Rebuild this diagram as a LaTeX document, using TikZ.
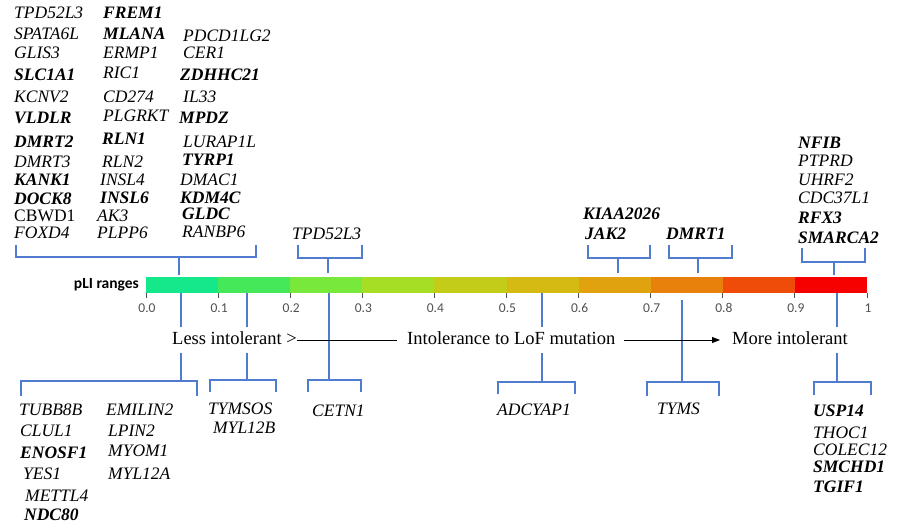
\documentclass[tikz,border=0pt]{standalone}
\usepackage{fontspec}
\setmainfont{Liberation Serif}
\newfontfamily\calib{Carlito}
\usetikzlibrary{arrows.meta}
\definecolor{brblue}{RGB}{79,124,206}
\definecolor{tickgray}{RGB}{80,80,80}
\definecolor{sA}{RGB}{20,232,138}
\definecolor{sB}{RGB}{68,232,88}
\definecolor{sC}{RGB}{120,232,58}
\definecolor{sD}{RGB}{166,222,38}
\definecolor{sE}{RGB}{196,204,26}
\definecolor{sF}{RGB}{212,186,18}
\definecolor{sG}{RGB}{224,162,14}
\definecolor{sH}{RGB}{232,128,12}
\definecolor{sI}{RGB}{238,76,8}
\definecolor{sJ}{RGB}{246,0,0}
\tikzset{
  gi/.style={font=\fontsize{17.5}{20}\selectfont\itshape, anchor=base west, inner sep=0pt},
  gb/.style={font=\fontsize{17.5}{20}\selectfont\bfseries\itshape, anchor=base west, inner sep=0pt},
  gr/.style={font=\fontsize{17.5}{20}\selectfont, anchor=base west, inner sep=0pt},
  br/.style={draw=brblue, line width=1.4pt},
  axl/.style={font=\fontsize{18.5}{21}\selectfont, anchor=base west, fill=white, inner xsep=0pt, inner ysep=5pt, text height=12pt, text depth=4pt},
  ticklab/.style={font=\calib\fontsize{13.5}{15}\selectfont, text=tickgray, inner sep=0pt},
}
\begin{document}
\begin{tikzpicture}[x=1pt,y=-1pt]
\useasboundingbox (0,0) rectangle (907,525);
% bar
\foreach \c [count=\i from 0] in {sA,sB,sC,sD,sE,sF,sG,sH,sI,sJ}{
  \fill[\c] ({146+72.1*\i},277) rectangle ({146+72.1*(\i+1)},293);
}
\foreach \i in {0,...,10}{
  \draw[tickgray, line width=1pt] ({146+72.1*\i},293) -- ({146+72.1*\i},298);
}
\foreach \l [count=\i from 0] in {0.0,0.1,0.2,0.3,0.4,0.5,0.6,0.7,0.8,0.9,1}{
  \node[ticklab] (t\i) at ({146+72.1*\i+1},308) {\l};
}
\node[font=\calib\bfseries\fontsize{15.5}{18}\selectfont, anchor=east, inner sep=0pt] (pli) at (139,285) {pLI ranges};

% top brackets
\draw[br] (16,245) -- (16,257) -- (256,257) -- (256,245);
\draw[br] (179,257) -- (179,275);
\draw[br] (298,245) -- (298,258) -- (362,258) -- (362,245);
\draw[br] (328,258) -- (328,273);
\draw[br] (588,245) -- (588,258) -- (650,258) -- (650,245);
\draw[br] (618,258) -- (618,273);
\draw[br] (669,245) -- (669,258) -- (732,258) -- (732,245);
\draw[br] (698,258) -- (698,273);
\draw[br] (802,248) -- (802,262) -- (865,262) -- (865,248);
\draw[br] (834,262) -- (834,275);

% bottom brackets
\draw[br] (181,293) -- (181,381);
\draw[br] (21,396) -- (21,381) -- (197,381) -- (197,396);
\draw[br] (247,293) -- (247,380);
\draw[br] (210,392) -- (210,380) -- (276,380) -- (276,392);
\draw[br] (329,293) -- (329,380);
\draw[br] (308,392) -- (308,380) -- (361,380) -- (361,392);
\draw[br] (542,293) -- (542,382);
\draw[br] (498,394) -- (498,382) -- (575,382) -- (575,394);
\draw[br] (682,300) -- (682,382);
\draw[br] (647,396) -- (647,382) -- (719,382) -- (719,396);
\draw[br] (837,293) -- (837,382);
\draw[br] (814,395) -- (814,382) -- (871,382) -- (871,395);

% axis labels
\node[axl] (less) at (172,344) {Less intolerant >};
\node[axl] (intol) at (407,344) {Intolerance to LoF mutation};
\node[axl] (more) at (732,344) {More intolerant};
\draw[black, line width=0.9pt, shorten >=10pt] (less.east) -- (intol.west);
\draw[black, line width=0.9pt, shorten <=9pt, shorten >=12pt, -{Triangle[length=8pt,width=6pt]}] (intol.east) -- (more.west);

% top-left genes, column 1
\node[gi] (a1) at (14,18) {TPD52L3};
\node[gi] (a2) at (14,39) {SPATA6L};
\node[gi] (a3) at (14,58) {GLIS3};
\node[gb] (a4) at (14,80) {SLC1A1};
\node[gi] (a5) at (14,102) {KCNV2};
\node[gb] (a6) at (14,123) {VLDLR};
\node[gb] (a7) at (14,147) {DMRT2};
\node[gi] (a8) at (14,167) {DMRT3};
\node[gb] (a9) at (14,185) {KANK1};
\node[gb] (a10) at (14,204) {DOCK8};
\node[gr] (a11) at (14,221) {CBWD1};
\node[gi] (a12) at (14,238) {FOXD4};
% column 2
\node[gb] (b1) at (103,18) {FREM1};
\node[gb] (b2) at (103,39) {MLANA};
\node[gi] (b3) at (103,58) {ERMP1};
\node[gi] (b4) at (103,78) {RIC1};
\node[gi] (b5) at (103,102) {CD274};
\node[gi] (b6) at (103,121) {PLGRKT};
\node[gb] (b7) at (102,144) {RLN1};
\node[gi] (b8) at (102,167) {RLN2};
\node[gi] (b9) at (100,185) {INSL4};
\node[gb] (b10) at (100,203) {INSL6};
\node[gi] (b11) at (97,221) {AK3};
\node[gi] (b12) at (97,238) {PLPP6};
% column 3
\node[gi] (c2) at (183,41) {PDCD1LG2};
\node[gi] (c3) at (183,58) {CER1};
\node[gb] (c4) at (180,80) {ZDHHC21};
\node[gi] (c5) at (183,102) {IL33};
\node[gb] (c6) at (179,123) {MPDZ};
\node[gi] (c7) at (183,147) {LURAP1L};
\node[gb] (c8) at (182,165) {TYRP1};
\node[gi] (c9) at (180,185) {DMAC1};
\node[gb] (c10) at (180,203) {KDM4C};
\node[gb] (c11) at (182,219) {GLDC};
\node[gi] (c12) at (182,237) {RANBP6};

% top middle / right genes
\node[gi] (d1) at (292,239) {TPD52L3};
\node[gb] (e1) at (583,219) {KIAA2026};
\node[gb] (e2) at (585,239) {JAK2};
\node[gb] (f1) at (666,239) {DMRT1};
\node[gb] (h1) at (798,148) {NFIB};
\node[gi] (h2) at (798,166) {PTPRD};
\node[gi] (h3) at (798,185) {UHRF2};
\node[gi] (h4) at (798,203) {CDC37L1};
\node[gb] (h5) at (798,223) {RFX3};
\node[gb] (h6) at (798,243) {SMARCA2};

% bottom genes
\node[gi] (k1) at (19,415) {TUBB8B};
\node[gi] (k2) at (20,436) {CLUL1};
\node[gb] (k3) at (20,458) {ENOSF1};
\node[gi] (k4) at (23,479) {YES1};
\node[gi] (k5) at (25,501) {METTL4};
\node[gb] (k6) at (24,520) {NDC80};
\node[gi] (l1) at (106,415) {EMILIN2};
\node[gi] (l2) at (108,436) {LPIN2};
\node[gi] (l3) at (108,456) {MYOM1};
\node[gi] (l4) at (108,479) {MYL12A};
\node[gi] (m1) at (208,414) {TYMSOS};
\node[gi] (m2) at (213,433) {MYL12B};
\node[gi] (n1) at (312,416) {CETN1};
\node[gi] (o1) at (497,415) {ADCYAP1};
\node[gi] (p1) at (657,414) {TYMS};
\node[gb] (q1) at (813,416) {USP14};
\node[gi] (q2) at (813,438) {THOC1};
\node[gi] (q3) at (813,455) {COLEC12};
\node[gb] (q4) at (813,472) {SMCHD1};
\node[gb] (q5) at (813,492) {TGIF1};
\end{tikzpicture}
\end{document}
